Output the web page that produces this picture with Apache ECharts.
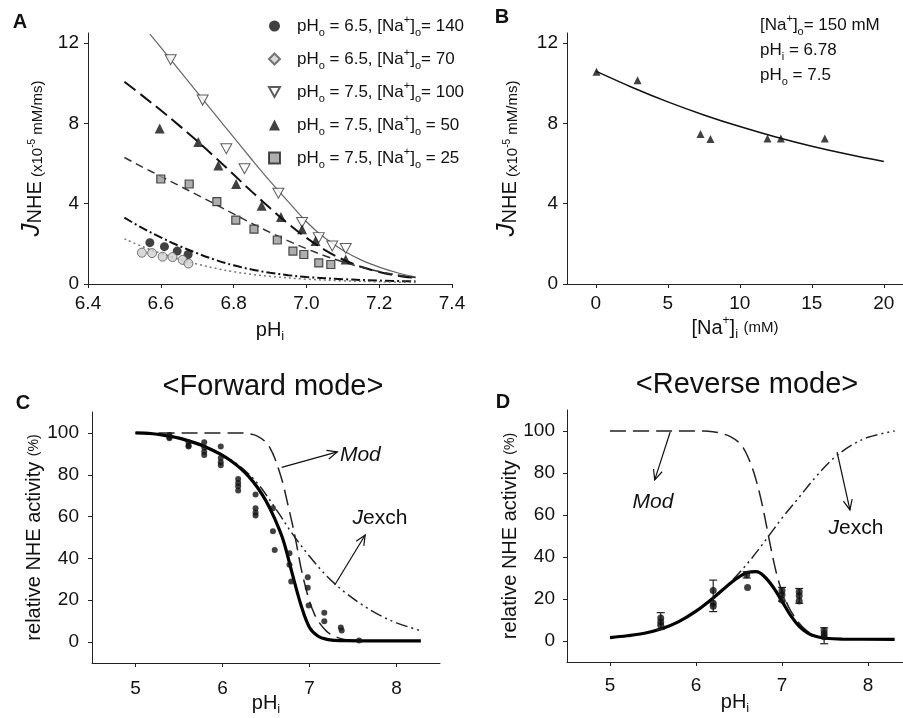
<!DOCTYPE html>
<html><head><meta charset="utf-8">
<script src="https://cdn.jsdelivr.net/npm/echarts@6/dist/echarts.min.js"></script>
<style>html,body{margin:0;padding:0;background:#fff}#c{width:903px;height:718px}</style>
</head><body><div id="c"></div>
<script>
const FONT = "'Liberation Sans', Arial, Helvetica, sans-serif";

// ---------- Panel A : J_NHE vs pHi ----------
const a140X = [6.57, 6.61, 6.645, 6.675];
const a140Y = [2.06, 1.86, 1.64, 1.47];
const a70X = [6.548, 6.576, 6.605, 6.632, 6.66, 6.676];
const a70Y = [1.56, 1.54, 1.36, 1.34, 1.2, 1.02];
const a100X = [6.627, 6.715, 6.78, 6.83, 6.923, 6.988, 7.034, 7.071, 7.108];
const a100Y = [11.17, 9.16, 6.74, 5.74, 4.52, 3.06, 2.31, 1.89, 1.77];
const a50X = [6.597, 6.703, 6.758, 6.807, 6.877, 6.93, 6.988, 7.025, 7.108];
const a50Y = [7.74, 7.07, 5.9, 4.98, 3.9, 3.34, 2.73, 2.14, 1.22];
const a25X = [6.6, 6.678, 6.754, 6.806, 6.856, 6.92, 6.963, 6.993, 7.034, 7.067];
const a25Y = [5.23, 4.98, 4.1, 3.18, 2.73, 2.19, 1.64, 1.47, 1.05, 0.97];

const fit100X = [6.57, 6.6, 6.65, 6.7, 6.75, 6.8, 6.85, 6.9, 6.95, 7.0, 7.05, 7.1, 7.15, 7.2, 7.25, 7.3];
const fit100Y = [12.45, 11.78, 10.66, 9.54, 8.42, 7.31, 6.2, 5.12, 4.1, 3.1, 2.3, 1.68, 1.2, 0.84, 0.56, 0.35];
const fit50X = [6.5, 6.55, 6.6, 6.65, 6.7, 6.75, 6.8, 6.85, 6.9, 6.95, 7.0, 7.05, 7.1, 7.15, 7.2, 7.25, 7.3];
const fit50Y = [10.07, 9.37, 8.65, 7.9, 7.12, 6.3, 5.45, 4.6, 3.78, 3.0, 2.3, 1.7, 1.22, 0.86, 0.6, 0.42, 0.3];
const fit25X = [6.5, 6.55, 6.6, 6.65, 6.7, 6.75, 6.8, 6.85, 6.9, 6.95, 7.0, 7.05, 7.1, 7.15, 7.2, 7.25, 7.3];
const fit25Y = [6.3, 5.82, 5.36, 4.9, 4.44, 3.97, 3.49, 3.02, 2.57, 2.15, 1.76, 1.41, 1.1, 0.84, 0.62, 0.45, 0.32];
const fit140X = [6.5, 6.55, 6.6, 6.65, 6.7, 6.75, 6.8, 6.85, 6.9, 6.95, 7.0, 7.1, 7.2, 7.3];
const fit140Y = [3.3, 2.78, 2.32, 1.9, 1.53, 1.2, 0.93, 0.72, 0.56, 0.44, 0.35, 0.24, 0.17, 0.13];
const fit70X = [6.5, 6.55, 6.6, 6.65, 6.7, 6.75, 6.8, 6.85, 6.9, 7.0, 7.1, 7.2, 7.3];
const fit70Y = [2.25, 1.86, 1.53, 1.24, 0.99, 0.78, 0.61, 0.48, 0.38, 0.24, 0.16, 0.11, 0.08];

const aXTicks = [6.4, 6.6, 6.8, 7.0, 7.2, 7.4];
const aYTicks = [0, 4, 8, 12];

const legendNames = ['pHo = 6.5, [Na+]o= 140', 'pHo = 6.5, [Na+]o= 70', 'pHo = 7.5, [Na+]o= 100', 'pHo = 7.5, [Na+]o = 50', 'pHo = 7.5, [Na+]o = 25'];
const legendRich = ['pH{s|o} = 6.5, [Na{p|+}]{s|o}= 140', 'pH{s|o} = 6.5, [Na{p|+}]{s|o}= 70', 'pH{s|o} = 7.5, [Na{p|+}]{s|o}= 100', 'pH{s|o} = 7.5, [Na{p|+}]{s|o} = 50', 'pH{s|o} = 7.5, [Na{p|+}]{s|o} = 25'];

// ---------- Panel B : J_NHE vs [Na+]i ----------
const bX = [0.05, 2.9, 7.27, 7.96, 11.92, 12.85, 15.9];
const bY = [10.57, 10.15, 7.47, 7.22, 7.25, 7.25, 7.25];
const bFitX = [0, 2.5, 5, 7.5, 10, 12.5, 15, 17.5, 20];
const bFitY = [10.6, 9.8, 9.07, 8.42, 7.84, 7.32, 6.86, 6.46, 6.1];
const bXTicks = [0, 5, 10, 15, 20];

// ---------- Panel C : forward mode ----------
const cModelX = [5.0, 5.1, 5.2, 5.3, 5.4, 5.5, 5.6, 5.7, 5.8, 5.9, 6.0, 6.1, 6.2, 6.3, 6.4, 6.5, 6.6, 6.7, 6.8, 6.9, 7.0, 7.1, 7.2, 7.3, 7.4, 7.6, 8.28];
const cModelY = [100, 99.9, 99.6, 99.1, 98.4, 97.5, 96.3, 95, 93.4, 91.5, 89.3, 86.6, 83.3, 79.2, 74, 67.5, 59, 48.5, 33, 18, 7, 2.8, 1.3, 0.8, 0.65, 0.6, 0.6];
const cModX = [5.0, 5.5, 6.0, 6.2, 6.3, 6.4, 6.5, 6.55, 6.6, 6.65, 6.7, 6.75, 6.8, 6.85, 6.9, 6.95, 7.0, 7.05, 7.1, 7.2, 7.3, 7.4, 7.5];
const cModY = [100, 100, 100, 100, 99.6, 98.5, 95.5, 92.5, 88, 82, 75, 66, 57, 47, 36, 27, 19.5, 14, 10, 5, 2.6, 1.3, 0.7];
const cJexX = [5.0, 5.2, 5.4, 5.6, 5.8, 6.0, 6.2, 6.4, 6.6, 6.8, 7.0, 7.2, 7.4, 7.6, 7.8, 8.0, 8.28];
const cJexY = [100, 99.6, 98.5, 96.5, 93.5, 89.5, 84, 76, 64.5, 52, 41, 31.5, 24, 18, 13, 9.2, 5.4];
const cPtX = [5.39, 5.39, 5.39, 5.61, 5.61, 5.61, 5.79, 5.79, 5.79, 5.79, 5.98, 5.98, 5.98, 5.98, 6.18, 6.18, 6.18, 6.18, 6.38, 6.38, 6.38, 6.38, 6.58, 6.58, 6.6, 6.77, 6.77, 6.79, 6.98, 6.98, 6.99, 7.17, 7.17, 7.36, 7.37, 7.57];
const cPtY = [99, 98, 97.5, 95.5, 94, 93.5, 95.5, 93, 91, 89.5, 93.5, 88, 86, 84.5, 78, 76, 74.5, 72.5, 70.5, 64, 62, 60.5, 64, 53, 44, 42.5, 37, 29, 31, 26, 17.5, 14, 10, 7, 5.5, 0.8];
const cdXTicks = [5, 6, 7, 8];
const cdYTicks = [0, 20, 40, 60, 80, 100];

// ---------- Panel D : reverse mode ----------
const dModelX = [5.0, 5.2, 5.4, 5.6, 5.8, 6.0, 6.2, 6.4, 6.5, 6.6, 6.7, 6.8, 6.9, 7.0, 7.1, 7.2, 7.3, 7.4, 7.5, 7.7, 8.31];
const dModelY = [1.6, 2.5, 3.7, 5.8, 9.2, 14.2, 20.5, 27.5, 30.5, 32.7, 33, 30.5, 25.5, 19, 12.2, 7, 3.8, 2.1, 1.3, 0.9, 0.8];
const dModX = [5.0, 5.5, 6.0, 6.1, 6.2, 6.3, 6.4, 6.5, 6.55, 6.6, 6.65, 6.7, 6.75, 6.8, 6.85, 6.9, 6.95, 7.0, 7.05, 7.1, 7.2, 7.3, 7.4, 7.5];
const dModY = [100, 100, 100, 100, 99.6, 98.8, 97.3, 94.5, 92, 88, 83, 76.5, 68.5, 59, 48.5, 38.5, 30, 23.5, 18.5, 14.5, 8.5, 4.5, 2.3, 1.2];
const dJexX = [5.0, 5.2, 5.4, 5.6, 5.8, 6.0, 6.2, 6.4, 6.6, 6.8, 7.0, 7.2, 7.4, 7.6, 7.8, 8.0, 8.31];
const dJexY = [1.6, 2.5, 3.7, 5.8, 9.2, 14.2, 20.6, 28, 37, 47.5, 58.5, 68.5, 78.5, 87, 93, 97, 100];
const dPtX = [5.59, 5.59, 5.59, 6.2, 6.2, 6.2, 6.59, 6.6, 7.0, 7.0, 7.0, 7.2, 7.2, 7.2, 7.49, 7.49, 7.49];
const dPtY = [11, 9, 7.5, 24, 18, 16.5, 31.5, 25.5, 24, 22, 19.5, 23.5, 21.5, 19, 5, 3.5, 2];
const dErrX = [5.59, 6.2, 6.59, 7.0, 7.2, 7.49];
const dErrLo = [5.5, 14, 30, 19, 18, -1.3];
const dErrHi = [13.5, 29, 33, 25.5, 25, 6.3];

// ---------- helpers ----------
const pts = (xs, ys) => xs.map((x, i) => [x, ys[i]]);
const C = '#111';

function valAxis(gi, min, max, ticks, opts) {
  return {
    type: 'value', gridIndex: gi, min: min, max: max, scale: true,
    axisLine: { show: true, onZero: false, lineStyle: { color: '#222', width: 1 } },
    axisTick: { show: true, length: 4, customValues: ticks, lineStyle: { color: '#222' } },
    axisLabel: { customValues: ticks, margin: opts.margin, fontSize: 19, fontFamily: FONT, color: C,
      formatter: opts.fmt || (v => String(v)) },
    splitLine: { show: false },
    nameLocation: 'middle', nameGap: opts.nameGap, name: opts.name, nameRotate: opts.rotate,
    nameMoveOverlap: false,
    nameTextStyle: opts.nameStyle
  };
}

const subRich = {
  s: { fontSize: 13, lineHeight: 14, verticalAlign: 'bottom', fontFamily: FONT, color: C },
  p: { fontSize: 12, lineHeight: 12, verticalAlign: 'top', fontFamily: FONT, color: C },
  m: { fontSize: 15, lineHeight: 26, fontFamily: FONT, color: C }
};
const xNameStyle = { fontSize: 20, fontFamily: FONT, color: C, lineHeight: 26, rich: subRich };
const jName = '{j|J}{n|NHE}{t| (x10}{p|-5}{t| mM/ms)}';
const jNameStyle = { fontSize: 15, fontFamily: FONT, color: C, lineHeight: 30, rich: {
  j: { fontSize: 26, fontStyle: 'italic', lineHeight: 26, verticalAlign: 'top', fontFamily: FONT, color: C },
  n: { fontSize: 20, lineHeight: 20, verticalAlign: 'bottom', fontFamily: FONT, color: C },
  t: { fontSize: 15, lineHeight: 19, verticalAlign: 'bottom', fontFamily: FONT, color: C },
  p: { fontSize: 10, lineHeight: 12, verticalAlign: 'middle', fontFamily: FONT, color: C }
}};
const relName = 'relative NHE activity {m|(%)}';
const relStyle = { fontSize: 20, fontFamily: FONT, color: C, lineHeight: 26, rich: {
  m: { fontSize: 14, lineHeight: 26, fontFamily: FONT, color: C }
}};

const fmt1 = v => v.toFixed(1);
const invTri = 'path://M0,0 L10,0 L5,9 Z';
const lineBase = { type: 'line', showSymbol: false, silent: true, smooth: 0.35 };

const option = {
  animation: false,
  backgroundColor: '#fff',
  textStyle: { fontFamily: FONT },
  grid: [
    { left: 88, top: 33, width: 364, height: 251, outerBoundsMode: 'none' },
    { left: 567, top: 33, width: 336, height: 251, outerBoundsMode: 'none' },
    { left: 92, top: 412, width: 348, height: 251, outerBoundsMode: 'none' },
    { left: 567, top: 410, width: 336, height: 252, outerBoundsMode: 'none' }
  ],
  xAxis: [
    valAxis(0, 6.4, 7.4, aXTicks, { margin: 10, fmt: fmt1, name: 'pH{s|i}', nameGap: 33, nameStyle: xNameStyle }),
    valAxis(1, -2, 21.33, bXTicks, { margin: 10, name: '[Na{p|+}]{s|i} {m|(mM)}', nameGap: 31, nameStyle: xNameStyle }),
    valAxis(2, 4.5, 8.5, cdXTicks, { margin: 16, name: 'pH{s|i}', nameGap: 27, nameStyle: xNameStyle }),
    valAxis(3, 4.5, 8.407, cdXTicks, { margin: 14, name: 'pH{s|i}', nameGap: 27, nameStyle: xNameStyle })
  ],
  yAxis: [
    valAxis(0, 0, 12.5, aYTicks, { margin: 9, name: jName, nameGap: 43, rotate: 90, nameStyle: jNameStyle }),
    valAxis(1, 0, 12.5, aYTicks, { margin: 9, name: jName, nameGap: 47, rotate: 90, nameStyle: jNameStyle }),
    valAxis(2, -10, 110, cdYTicks, { margin: 13, name: relName, nameGap: 45, rotate: 90, nameStyle: relStyle }),
    valAxis(3, -10, 110, cdYTicks, { margin: 12, name: relName, nameGap: 44, rotate: 90, nameStyle: relStyle })
  ],
  legend: {
    orient: 'vertical', left: 263, top: 9, itemGap: 9, itemWidth: 11, itemHeight: 11,
    selectedMode: false,
    data: legendNames.map((n, i) => i === 1 ? { name: n, icon: 'diamond' } : { name: n }),
    formatter: name => legendRich[legendNames.indexOf(name)],
    textStyle: { fontFamily: FONT, fontSize: 17, color: C, lineHeight: 24, padding: [0, 0, 0, 12],
      rich: {
        s: { fontSize: 11, lineHeight: 12, verticalAlign: 'bottom', fontFamily: FONT, color: C },
        p: { fontSize: 11, lineHeight: 12, verticalAlign: 'top', fontFamily: FONT, color: C }
      } }
  },
  series: [
    // Panel A fits
    Object.assign({}, lineBase, { name: 'fit100', xAxisIndex: 0, yAxisIndex: 0, data: pts(fit100X, fit100Y), lineStyle: { color: '#666', width: 1.2 } }),
    Object.assign({}, lineBase, { name: 'fit50', xAxisIndex: 0, yAxisIndex: 0, data: pts(fit50X, fit50Y), lineStyle: { color: '#111', width: 2, type: [14, 6] } }),
    Object.assign({}, lineBase, { name: 'fit25', xAxisIndex: 0, yAxisIndex: 0, data: pts(fit25X, fit25Y), lineStyle: { color: '#333', width: 1.5, type: [8, 5] } }),
    Object.assign({}, lineBase, { name: 'fit140', xAxisIndex: 0, yAxisIndex: 0, data: pts(fit140X, fit140Y), lineStyle: { color: '#111', width: 2, type: [9, 3, 2, 3] } }),
    Object.assign({}, lineBase, { name: 'fit70', xAxisIndex: 0, yAxisIndex: 0, data: pts(fit70X, fit70Y), lineStyle: { color: '#777', width: 1.5, type: [2, 3] } }),
    // Panel A points
    { type: 'scatter', name: legendNames[0], xAxisIndex: 0, yAxisIndex: 0, data: pts(a140X, a140Y), symbol: 'circle', symbolSize: 9, itemStyle: { color: '#111' }, z: 5 },
    { type: 'scatter', name: legendNames[1], xAxisIndex: 0, yAxisIndex: 0, data: pts(a70X, a70Y), symbol: 'circle', symbolSize: 9, itemStyle: { color: '#cfcfcf', borderColor: '#555', borderWidth: 1 }, z: 5 },
    { type: 'scatter', name: legendNames[2], xAxisIndex: 0, yAxisIndex: 0, data: pts(a100X, a100Y), symbol: invTri, symbolSize: [11, 10], itemStyle: { color: '#fff', borderColor: '#333', borderWidth: 1 }, z: 5 },
    { type: 'scatter', name: legendNames[3], xAxisIndex: 0, yAxisIndex: 0, data: pts(a50X, a50Y), symbol: 'triangle', symbolSize: 10, itemStyle: { color: '#111' }, z: 5 },
    { type: 'scatter', name: legendNames[4], xAxisIndex: 0, yAxisIndex: 0, data: pts(a25X, a25Y), symbol: 'rect', symbolSize: 8, itemStyle: { color: '#9a9a9a', borderColor: '#222', borderWidth: 1.2 }, z: 5 },
    // Panel B
    Object.assign({}, lineBase, { name: 'bFit', xAxisIndex: 1, yAxisIndex: 1, data: pts(bFitX, bFitY), lineStyle: { color: '#111', width: 1.5 } }),
    { type: 'scatter', name: 'bPts', xAxisIndex: 1, yAxisIndex: 1, data: pts(bX, bY), symbol: 'triangle', symbolSize: 8, itemStyle: { color: '#111' }, z: 5 },
    // Panel C
    Object.assign({}, lineBase, { name: 'cMod', xAxisIndex: 2, yAxisIndex: 2, data: pts(cModX, cModY), lineStyle: { color: '#222', width: 1.5, type: [16, 7] } }),
    Object.assign({}, lineBase, { name: 'cJexch', xAxisIndex: 2, yAxisIndex: 2, data: pts(cJexX, cJexY), lineStyle: { color: '#222', width: 1.5, type: [12, 4, 2, 4, 2, 4] } }),
    Object.assign({}, lineBase, { name: 'cModel', xAxisIndex: 2, yAxisIndex: 2, data: pts(cModelX, cModelY), lineStyle: { color: '#000', width: 3.2 } }),
    { type: 'scatter', name: 'cPts', xAxisIndex: 2, yAxisIndex: 2, data: pts(cPtX, cPtY), symbol: 'circle', symbolSize: 6, itemStyle: { color: '#111' }, z: 5 },
    // Panel D
    Object.assign({}, lineBase, { name: 'dMod', xAxisIndex: 3, yAxisIndex: 3, data: pts(dModX, dModY), lineStyle: { color: '#222', width: 1.5, type: [16, 7] } }),
    Object.assign({}, lineBase, { name: 'dJexch', xAxisIndex: 3, yAxisIndex: 3, data: pts(dJexX, dJexY), lineStyle: { color: '#222', width: 1.5, type: [12, 4, 2, 4, 2, 4] } }),
    Object.assign({}, lineBase, { name: 'dModel', xAxisIndex: 3, yAxisIndex: 3, data: pts(dModelX, dModelY), lineStyle: { color: '#000', width: 3.2 } }),
    { type: 'custom', name: 'dErr', xAxisIndex: 3, yAxisIndex: 3, data: dErrX.map((x, i) => [x, dErrLo[i], dErrHi[i]]),
      encode: { x: 0, y: [1, 2] }, z: 4,
      renderItem: (params, api) => {
        const x = api.value(0);
        const lo = api.coord([x, api.value(1)]), hi = api.coord([x, api.value(2)]);
        const w = 4, st = { stroke: '#222', lineWidth: 1.2 };
        return { type: 'group', children: [
          { type: 'line', shape: { x1: lo[0], y1: lo[1], x2: hi[0], y2: hi[1] }, style: st },
          { type: 'line', shape: { x1: lo[0] - w, y1: lo[1], x2: lo[0] + w, y2: lo[1] }, style: st },
          { type: 'line', shape: { x1: hi[0] - w, y1: hi[1], x2: hi[0] + w, y2: hi[1] }, style: st }
        ] };
      } },
    { type: 'scatter', name: 'dPts', xAxisIndex: 3, yAxisIndex: 3, data: pts(dPtX, dPtY), symbol: 'circle', symbolSize: 7, itemStyle: { color: '#111' }, z: 5 }
  ]
};

const chart = echarts.init(document.getElementById('c'), null, { renderer: 'canvas' });
chart.setOption(option);

// ---------- annotations (placed in data coordinates) ----------
const annArrows = [
  { g: 2, from: [6.68, 83.5], to: [7.32, 90.9] },
  { g: 2, from: [7.29, 27.3], to: [7.64, 51.2] },
  { g: 3, from: [5.70, 99.5], to: [5.52, 76.7] },
  { g: 3, from: [7.64, 90], to: [7.79, 62.4] }
];
const annTexts = [
  { g: 2, at: [7.35, 89.4], text: 'Mod', align: 'left' },
  { g: 2, at: [7.81, 59.3], text: '{j|J}exch', align: 'center' },
  { g: 3, at: [5.5, 66.2], text: 'Mod', align: 'center' },
  { g: 3, at: [7.86, 53.8], text: '{j|J}exch', align: 'center' }
];
const gfx = [];
annArrows.forEach(a => {
  const p0 = chart.convertToPixel({ gridIndex: a.g }, a.from);
  const p1 = chart.convertToPixel({ gridIndex: a.g }, a.to);
  const ang = Math.atan2(p1[1] - p0[1], p1[0] - p0[0]);
  const L = 11, h = 0.42;
  const st = { stroke: '#111', lineWidth: 1.2, fill: 'none' };
  gfx.push({ type: 'polyline', shape: { points: [p0, p1] }, style: st, silent: true });
  gfx.push({ type: 'polyline', shape: { points: [
    [p1[0] - L * Math.cos(ang - h), p1[1] - L * Math.sin(ang - h)], p1,
    [p1[0] - L * Math.cos(ang + h), p1[1] - L * Math.sin(ang + h)]] }, style: st, silent: true });
});
annTexts.forEach(t => {
  const p = chart.convertToPixel({ gridIndex: t.g }, t.at);
  const isMod = t.text === 'Mod';
  gfx.push({ type: 'text', x: p[0], y: p[1], silent: true, style: {
    text: t.text, fontSize: 21, fontFamily: FONT, fontStyle: isMod ? 'italic' : 'normal', fill: C,
    align: t.align, verticalAlign: 'middle',
    rich: { j: { fontSize: 21, fontStyle: 'italic', fontFamily: FONT, fill: C } } } });
});
const freeTexts = [
  { x: 20, y: 22, text: 'A', bold: true, size: 20, align: 'center' },
  { x: 502, y: 17, text: 'B', bold: true, size: 20, align: 'center' },
  { x: 23, y: 403, text: 'C', bold: true, size: 20, align: 'center' },
  { x: 503, y: 402, text: 'D', bold: true, size: 20, align: 'center' },
  { x: 273, y: 387, text: '<Forward mode>', size: 29, align: 'center' },
  { x: 747, y: 385, text: '<Reverse mode>', size: 29, align: 'center' },
  { x: 760, y: 25, text: '[Na{p|+}]{s|o}= 150 mM', size: 17, align: 'left' },
  { x: 760, y: 50, text: 'pH{s|i} = 6.78', size: 17, align: 'left' },
  { x: 760, y: 75, text: 'pH{s|o} = 7.5', size: 17, align: 'left' }
];
freeTexts.forEach(t => {
  gfx.push({ type: 'text', x: t.x, y: t.y, silent: true, style: {
    text: t.text, fontSize: t.size, fontFamily: FONT, fontWeight: t.bold ? 'bold' : 'normal', fill: C,
    align: t.align, verticalAlign: 'middle', lineHeight: 24,
    rich: {
      s: { fontSize: 11, lineHeight: 12, verticalAlign: 'bottom', fontFamily: FONT, fill: C },
      p: { fontSize: 11, lineHeight: 12, verticalAlign: 'top', fontFamily: FONT, fill: C }
    } } });
});
chart.setOption({ graphic: gfx });
</script></body></html>
